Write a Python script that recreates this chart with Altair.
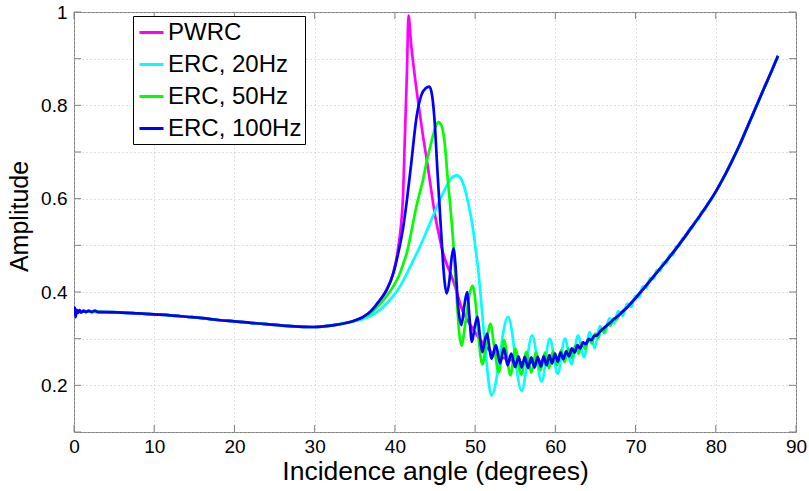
import altair as alt
import pandas as pd

NAMES = ["PWRC", "ERC, 20Hz", "ERC, 50Hz", "ERC, 100Hz"]
COLORS = ["#ff00ff", "#00ffff", "#00ff00", "#0000ff"]

X_TICKS = [0, 10, 20, 30, 40, 50, 60, 70, 80, 90]
Y_TICKS = [0.1, 0.2, 0.3, 0.4, 0.5, 0.6, 0.7, 0.8, 0.9, 1.0]

# shared pre-critical part (all curves coincide)
BASE_X = [0, 2, 4, 6, 8, 10, 12, 14, 16, 18, 20, 22, 24, 26, 28, 30, 32, 34]
BASE_Y = [0.358, 0.358, 0.357, 0.356, 0.354, 0.352, 0.350, 0.347, 0.344, 0.340,
          0.337, 0.334, 0.331, 0.328, 0.326, 0.325, 0.328, 0.334]

# noisy start of the 100 Hz curve
NOISE_X = [0, 0.1, 0.2, 0.35, 0.5, 0.7, 0.9, 1.2, 1.5, 1.8, 2.2, 2.6, 3.0]
NOISE_Y = [0.352, 0.367, 0.346, 0.362, 0.355, 0.361, 0.356, 0.360, 0.357, 0.360, 0.357, 0.360, 0.357]

# shared post-critical tail
TAIL_X = [67, 68, 69, 70, 71, 72, 73, 74, 75, 76, 77, 78, 79, 80, 81, 82, 83, 84, 85, 86, 87, 87.75]
TAIL_Y = [0.337, 0.352, 0.368, 0.387, 0.407, 0.428, 0.449, 0.470, 0.492, 0.515, 0.539, 0.563,
          0.588, 0.615, 0.646, 0.680, 0.716, 0.756, 0.796, 0.836, 0.875, 0.906]

PWRC_X = [35, 36, 37, 38, 39, 39.5, 40, 40.5, 40.8, 41.0, 41.26, 41.5, 41.7, 42.0, 42.5, 43.0,
          43.5, 44.0, 44.5, 45.0, 45.5, 46.0, 46.5, 47.0, 47.5, 48.0, 48.5, 49.0, 49.5, 50.0,
          50.5, 51.0, 51.5, 52.0, 53, 54, 55, 56, 57, 58, 59, 60, 61, 62, 63, 64, 65, 66]
PWRC_Y = [0.339, 0.346, 0.358, 0.378, 0.406, 0.425, 0.455, 0.505, 0.550, 0.600, 0.740, 0.870,
          0.993, 0.935, 0.860, 0.795, 0.735, 0.680, 0.622, 0.565, 0.522, 0.484, 0.458, 0.437,
          0.412, 0.383, 0.357, 0.341, 0.327, 0.313, 0.301, 0.290, 0.280, 0.272, 0.262, 0.256,
          0.252, 0.249, 0.249, 0.251, 0.254, 0.258, 0.263, 0.271, 0.281, 0.293, 0.307, 0.322]

ERC20_X = [35, 36, 37, 38, 39, 40, 40.6, 41.5, 42.3, 43.2, 44.0, 44.8, 45.6, 46.4, 47.0, 47.7,
           48.3, 48.7, 49.1, 49.5, 49.8, 50.1, 50.4, 50.7, 51.0, 51.4, 51.75, 52.05, 54.1, 55.8,
           57.1, 58.3, 59.3, 60.3, 61.2, 62.0, 62.85, 63.55, 64.3, 64.9, 65.55, 66.15, 66.75,
           67.3, 67.85, 68.4, 68.95, 69.45, 69.95, 70.45, 70.9, 71.35, 71.8, 72.25, 72.65,
           73.05, 73.45, 73.85, 74.25, 74.65, 75.05, 75.45, 75.85, 76.25, 76.65, 77.05, 77.45,
           77.85, 78.25, 78.65, 79.05, 79.45]
ERC20_Y = [0.338, 0.342, 0.349, 0.360, 0.376, 0.396, 0.411, 0.440, 0.468, 0.500, 0.532, 0.565,
           0.597, 0.626, 0.643, 0.650, 0.641, 0.622, 0.594, 0.560, 0.527, 0.487, 0.445, 0.390,
           0.330, 0.255, 0.198, 0.178, 0.347, 0.188, 0.307, 0.208, 0.300, 0.225, 0.300, 0.246,
           0.307, 0.260, 0.314, 0.280, 0.327, 0.312, 0.344, 0.332, 0.359, 0.349, 0.375, 0.368,
           0.392, 0.389, 0.412, 0.409, 0.430, 0.428, 0.447, 0.445, 0.463, 0.462, 0.480, 0.479,
           0.497, 0.499, 0.515, 0.518, 0.533, 0.537, 0.552, 0.556, 0.572, 0.576, 0.591, 0.598]

ERC50_X = [35, 36, 37, 38, 39, 40, 40.5, 41.0, 41.5, 42.0, 42.7, 43.5, 44.0, 44.5, 45.0, 45.4,
           45.8, 46.2, 46.6, 46.9, 47.3, 47.7, 48.0, 48.3, 48.8, 49.3, 49.7, 50.1, 50.5, 50.9,
           51.4, 51.9, 52.4, 52.95, 53.6, 54.4, 55.0, 55.75, 56.4, 57.0, 57.6, 58.15, 58.7, 59.2,
           59.7, 60.2, 60.7, 61.15, 61.6, 62.05, 62.5, 62.9, 63.3, 63.75, 64.15, 64.55, 64.95,
           65.35, 65.75, 66.1, 66.5, 66.85, 67.25, 67.6, 68]
ERC50_Y = [0.338, 0.345, 0.355, 0.372, 0.392, 0.418, 0.435, 0.458, 0.485, 0.525, 0.585, 0.640,
           0.682, 0.718, 0.750, 0.764, 0.757, 0.720, 0.640, 0.585, 0.500, 0.390, 0.315, 0.285,
           0.335, 0.395, 0.413, 0.370, 0.290, 0.245, 0.290, 0.332, 0.280, 0.228, 0.297, 0.222,
           0.278, 0.223, 0.272, 0.227, 0.271, 0.232, 0.270, 0.237, 0.273, 0.243, 0.275, 0.250,
           0.279, 0.259, 0.285, 0.268, 0.291, 0.278, 0.301, 0.290, 0.311, 0.302, 0.321, 0.314,
           0.332, 0.328, 0.343, 0.341, 0.352]

ERC100_X = [35, 36, 37, 38, 39, 39.8, 40.5, 41.0, 41.5, 42.0, 42.7, 43.3, 43.8, 44.3, 44.65,
            45.0, 45.3, 45.6, 45.9, 46.15, 46.45, 46.8, 47.05, 47.3, 47.55, 47.85, 48.3, 48.65,
            49.0, 49.3, 49.6, 49.95, 50.3, 50.6, 50.9, 51.2, 51.5, 51.78, 52.05, 52.6, 53.1,
            53.6, 54.05, 54.5, 55.0, 55.4, 55.8, 56.2, 56.6, 57.0, 57.4, 57.8, 58.2, 58.55, 58.9,
            59.25, 59.6, 59.95, 60.3, 60.65, 61.0, 61.35, 61.7, 62.05, 62.4, 62.75, 63.1, 63.45,
            63.8, 64.15, 64.5, 64.85, 65.2, 65.55, 66]
ERC100_Y = [0.339, 0.346, 0.359, 0.380, 0.405, 0.440, 0.490, 0.535, 0.597, 0.670, 0.775, 0.822,
            0.836, 0.840, 0.820, 0.754, 0.660, 0.575, 0.490, 0.430, 0.397, 0.425, 0.470, 0.493,
            0.458, 0.375, 0.329, 0.370, 0.400, 0.345, 0.293, 0.325, 0.347, 0.305, 0.271, 0.295,
            0.311, 0.280, 0.257, 0.286, 0.247, 0.279, 0.243, 0.268, 0.239, 0.262, 0.238, 0.261,
            0.237, 0.260, 0.238, 0.261, 0.240, 0.262, 0.243, 0.265, 0.247, 0.268, 0.251, 0.270,
            0.256, 0.273, 0.262, 0.279, 0.270, 0.286, 0.279, 0.292, 0.288, 0.299, 0.297, 0.306,
            0.307, 0.315, 0.322]

FONT = "Liberation Sans"
GRAY = "#808080"

series = {
    "PWRC": (BASE_X + PWRC_X + TAIL_X, BASE_Y + PWRC_Y + TAIL_Y),
    "ERC, 20Hz": (BASE_X + ERC20_X + TAIL_X[TAIL_X.index(80):], BASE_Y + ERC20_Y + TAIL_Y[TAIL_X.index(80):]),
    "ERC, 50Hz": (BASE_X + ERC50_X + TAIL_X[TAIL_X.index(69):], BASE_Y + ERC50_Y + TAIL_Y[TAIL_X.index(69):]),
    "ERC, 100Hz": (NOISE_X + BASE_X[2:] + ERC100_X + TAIL_X, NOISE_Y + BASE_Y[2:] + ERC100_Y + TAIL_Y),
}

x_scale = alt.Scale(domain=[0, 90], nice=False, zero=False)
y_scale = alt.Scale(domain=[0.1, 1.0], nice=False, zero=False)
color = alt.Color(
    "series:N",
    scale=alt.Scale(domain=NAMES, range=COLORS),
    sort=NAMES,
    legend=alt.Legend(
        title=None, orient="none", legendX=59, legendY=4,
        symbolType="stroke", symbolStrokeWidth=3, symbolSize=576,
        labelFont=FONT, labelFontSize=24, labelColor="black", labelOffset=3,
        rowPadding=6, padding=3, strokeColor="black", fillColor="white",
        symbolOffset=2, labelLimit=300,
    ),
)

x_axis = alt.Axis(
    values=X_TICKS, title="Incidence angle (degrees)", labelFlush=False,
    ticks=False, domain=False, grid=True, gridDash=[1, 3], gridColor="#c0c0c0",
    labelFont=FONT, labelFontSize=19, labelColor="black", labelPadding=5,
    titleFont=FONT, titleFontSize=26.5, titleFontWeight="normal", titleColor="black", titlePadding=2,
)
y_axis = alt.Axis(
    values=Y_TICKS, title="Amplitude", labelFlush=False,
    labelExpr="round(datum.value*10) % 2 == 0 ? format(datum.value, '~g') : ''",
    ticks=False, domain=False, grid=True, gridDash=[1, 3], gridColor="#c0c0c0",
    labelFont=FONT, labelFontSize=19, labelColor="black", labelPadding=7,
    titleFont=FONT, titleFontSize=25, titleFontWeight="normal", titleColor="black", titlePadding=8,
    titleY=204,
)

layers = []
for i, name in enumerate(NAMES):
    xs, ys = series[name]
    df = pd.DataFrame({"x": xs, "y": ys, "series": name})
    layers.append(
        alt.Chart(df).mark_line(strokeWidth=2.7, interpolate="monotone", clip=True).encode(
            x=alt.X("x:Q", scale=x_scale, axis=x_axis),
            y=alt.Y("y:Q", scale=y_scale, axis=y_axis),
            color=color,
        )
    )

xt = pd.DataFrame({"x": X_TICKS})
yt = pd.DataFrame({"y": Y_TICKS})
tick_style = dict(color=GRAY, strokeWidth=1)
ticks = [
    alt.Chart(xt).mark_rule(**tick_style).encode(x=alt.X("x:Q", scale=x_scale, axis=x_axis), y=alt.value(420), y2=alt.value(413)),
    alt.Chart(xt).mark_rule(**tick_style).encode(x=alt.X("x:Q", scale=x_scale, axis=x_axis), y=alt.value(0), y2=alt.value(7)),
    alt.Chart(yt).mark_rule(**tick_style).encode(y=alt.Y("y:Q", scale=y_scale, axis=y_axis), x=alt.value(0), x2=alt.value(7)),
    alt.Chart(yt).mark_rule(**tick_style).encode(y=alt.Y("y:Q", scale=y_scale, axis=y_axis), x=alt.value(722), x2=alt.value(715)),
]

chart = alt.layer(*layers, *ticks).properties(
    width=722, height=420,
    autosize="none",
    padding={"left": 74, "top": 12, "right": 13, "bottom": 59},
    background="white",
).configure_view(stroke=GRAY, strokeWidth=1)

chart.save("out.html", embed_options={"renderer": "svg", "actions": False})
